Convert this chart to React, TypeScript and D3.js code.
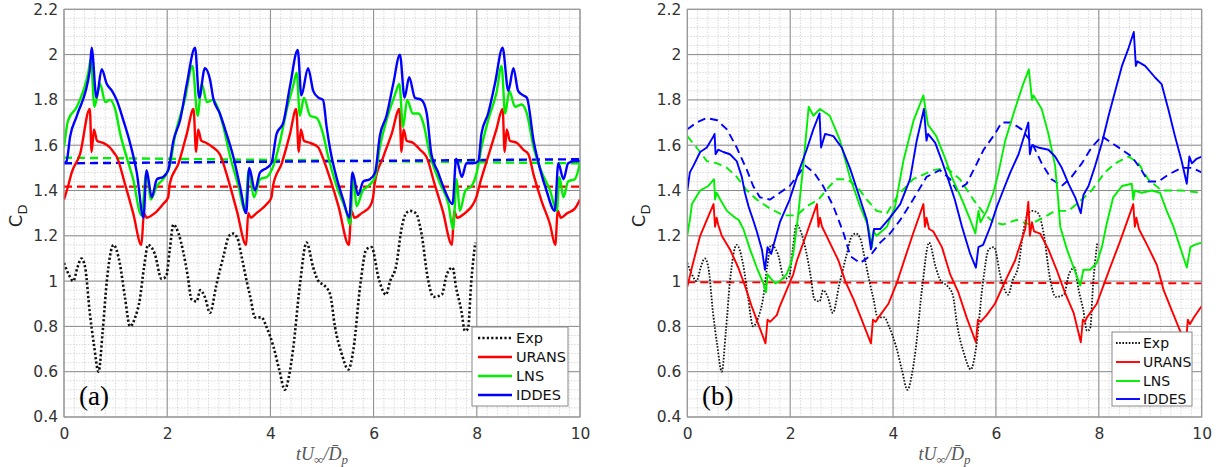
import React, { useEffect, useRef } from 'react';
import * as d3 from 'd3';

type Pt = [number, number];

// experiment (same in both panels)
const expData: Pt[] = [
  [0, 1.08], [0.09, 1.03], [0.18, 1.0], [0.26, 1.06], [0.34, 1.10], [0.41, 1.06], [0.5, 0.86], [0.58, 0.72],
  [0.67, 0.6], [0.75, 0.78], [0.83, 1.0], [0.96, 1.16], [1.08, 1.08], [1.18, 0.93], [1.28, 0.8], [1.38, 0.84],
  [1.47, 0.92], [1.55, 1.06], [1.63, 1.16], [1.76, 1.12], [1.89, 1.01], [1.98, 1.02], [2.05, 1.14], [2.12, 1.25],
  [2.22, 1.21], [2.31, 1.13], [2.4, 1.02], [2.47, 0.92], [2.57, 0.91], [2.64, 0.96], [2.73, 0.93], [2.83, 0.86],
  [2.95, 0.98], [3.09, 1.11], [3.2, 1.2], [3.28, 1.21], [3.36, 1.19], [3.45, 1.1], [3.54, 1.0], [3.62, 0.92],
  [3.7, 0.84], [3.83, 0.84], [3.92, 0.8], [4.06, 0.71], [4.17, 0.61], [4.28, 0.52], [4.36, 0.58], [4.44, 0.7],
  [4.57, 0.98], [4.7, 1.17], [4.83, 1.06], [4.93, 1.0], [5.05, 0.98], [5.16, 0.94], [5.25, 0.8], [5.38, 0.68],
  [5.51, 0.61], [5.61, 0.7], [5.74, 0.98], [5.86, 1.14], [5.96, 1.15], [6.1, 1.01], [6.24, 0.94], [6.32, 1.0],
  [6.44, 1.07], [6.54, 1.23], [6.63, 1.3], [6.71, 1.31], [6.82, 1.3], [6.92, 1.22], [7.06, 1.0], [7.16, 0.93],
  [7.32, 0.94], [7.42, 1.03], [7.53, 1.06], [7.6, 0.97], [7.7, 0.87], [7.77, 0.78], [7.83, 0.79], [7.89, 0.99],
  [7.97, 1.17],
];

// panel (a)
const uransA: Pt[] = [
  [0, 1.36], [0.08, 1.42], [0.15, 1.48], [0.31, 1.56], [0.5, 1.76], [0.535, 1.57], [0.58, 1.67], [0.64, 1.62],
  [0.76, 1.61], [0.89, 1.59], [0.99, 1.56], [1.02, 1.55], [1.18, 1.43], [1.34, 1.3], [1.5, 1.16], [1.55, 1.3],
  [1.6, 1.28], [1.76, 1.3], [1.92, 1.34], [2.02, 1.37], [2.05, 1.43], [2.22, 1.52], [2.38, 1.65], [2.51, 1.76],
  [2.56, 1.57], [2.6, 1.67], [2.66, 1.62], [2.76, 1.61], [2.89, 1.59], [3.02, 1.56], [3.18, 1.45], [3.35, 1.31],
  [3.53, 1.16], [3.57, 1.3], [3.62, 1.28], [3.73, 1.3], [3.93, 1.34], [4.02, 1.37], [4.05, 1.42], [4.22, 1.52],
  [4.38, 1.65], [4.5, 1.76], [4.55, 1.57], [4.59, 1.67], [4.65, 1.62], [4.77, 1.61], [4.93, 1.59], [4.99, 1.56],
  [5.16, 1.45], [5.32, 1.33], [5.52, 1.16], [5.57, 1.31], [5.63, 1.28], [5.77, 1.3], [5.93, 1.33], [5.99, 1.37],
  [6.02, 1.43], [6.19, 1.55], [6.35, 1.65], [6.5, 1.76], [6.54, 1.57], [6.58, 1.67], [6.64, 1.62], [6.77, 1.61],
  [6.9, 1.58], [6.99, 1.56], [7.02, 1.55], [7.18, 1.43], [7.34, 1.31], [7.52, 1.16], [7.56, 1.31], [7.62, 1.28],
  [7.77, 1.3], [7.93, 1.34], [7.99, 1.37], [8.06, 1.43], [8.22, 1.55], [8.38, 1.67], [8.5, 1.76], [8.54, 1.57],
  [8.58, 1.67], [8.64, 1.62], [8.78, 1.61], [8.9, 1.58], [9.0, 1.56], [9.1, 1.47], [9.26, 1.35], [9.42, 1.25],
  [9.52, 1.16], [9.57, 1.31], [9.63, 1.28], [9.75, 1.3], [9.9, 1.32], [10, 1.36],
];
const lnsA: Pt[] = [
  [0, 1.59], [0.08, 1.71], [0.25, 1.77], [0.47, 1.92], [0.52, 1.98], [0.59, 1.77], [0.7, 1.87], [0.8, 1.79],
  [0.89, 1.8], [0.99, 1.76], [1.09, 1.65], [1.21, 1.55], [1.34, 1.45], [1.5, 1.29], [1.6, 1.48], [1.68, 1.36],
  [1.8, 1.42], [1.92, 1.45], [2.05, 1.51], [2.15, 1.64], [2.34, 1.8], [2.49, 1.95], [2.59, 1.73], [2.67, 1.87],
  [2.77, 1.79], [2.89, 1.8], [2.99, 1.76], [3.09, 1.68], [3.22, 1.55], [3.38, 1.42], [3.51, 1.31], [3.58, 1.49],
  [3.68, 1.37], [3.8, 1.45], [3.93, 1.46], [4.06, 1.51], [4.19, 1.62], [4.32, 1.76], [4.44, 1.86], [4.51, 1.92],
  [4.57, 1.73], [4.65, 1.81], [4.77, 1.73], [4.9, 1.72], [5.02, 1.65], [5.12, 1.55], [5.28, 1.42], [5.48, 1.3],
  [5.54, 1.25], [5.61, 1.46], [5.67, 1.33], [5.79, 1.4], [5.9, 1.42], [6.03, 1.46], [6.12, 1.59], [6.25, 1.71],
  [6.41, 1.82], [6.5, 1.87], [6.57, 1.68], [6.65, 1.8], [6.76, 1.74], [6.87, 1.74], [6.96, 1.7], [7.09, 1.56],
  [7.29, 1.43], [7.45, 1.34], [7.54, 1.23], [7.61, 1.45], [7.67, 1.31], [7.78, 1.4], [7.9, 1.42], [8.0, 1.48],
  [8.09, 1.59], [8.22, 1.71], [8.38, 1.83], [8.48, 1.95], [8.55, 1.74], [8.63, 1.84], [8.74, 1.77], [8.87, 1.78],
  [8.97, 1.74], [9.1, 1.59], [9.26, 1.48], [9.42, 1.4], [9.55, 1.31], [9.6, 1.46], [9.68, 1.37], [9.77, 1.44],
  [9.9, 1.45], [10, 1.52],
];
const iddesA: Pt[] = [
  [0, 1.52], [0.05, 1.53], [0.12, 1.64], [0.25, 1.73], [0.5, 1.93], [0.535, 2.03], [0.63, 1.81], [0.73, 1.935],
  [0.83, 1.87], [0.93, 1.84], [1.02, 1.8], [1.15, 1.71], [1.28, 1.61], [1.41, 1.48], [1.54, 1.28], [1.6, 1.49],
  [1.7, 1.37], [1.8, 1.45], [1.92, 1.46], [2.02, 1.49], [2.12, 1.62], [2.25, 1.71], [2.38, 1.87], [2.54, 2.03],
  [2.62, 1.81], [2.73, 1.94], [2.83, 1.89], [2.89, 1.81], [3.02, 1.74], [3.15, 1.65], [3.28, 1.55], [3.41, 1.42],
  [3.53, 1.3], [3.59, 1.5], [3.7, 1.4], [3.8, 1.48], [3.93, 1.5], [4.02, 1.52], [4.12, 1.65], [4.25, 1.7],
  [4.38, 1.86], [4.53, 2.02], [4.6, 1.82], [4.73, 1.94], [4.83, 1.84], [4.93, 1.81], [5.02, 1.8], [5.09, 1.68],
  [5.16, 1.58], [5.29, 1.45], [5.41, 1.36], [5.53, 1.28], [5.59, 1.48], [5.7, 1.38], [5.8, 1.44], [5.93, 1.45],
  [6.03, 1.48], [6.12, 1.64], [6.25, 1.73], [6.38, 1.87], [6.51, 2.0], [6.6, 1.81], [6.69, 1.9], [6.8, 1.81],
  [6.93, 1.8], [7.03, 1.74], [7.12, 1.56], [7.25, 1.48], [7.38, 1.4], [7.53, 1.34], [7.6, 1.54], [7.71, 1.46],
  [7.8, 1.52], [7.93, 1.52], [8.03, 1.53], [8.09, 1.65], [8.22, 1.74], [8.35, 1.87], [8.5, 2.03], [8.61, 1.84],
  [8.71, 1.94], [8.8, 1.84], [8.9, 1.82], [8.97, 1.81], [9.1, 1.62], [9.22, 1.5], [9.35, 1.4], [9.51, 1.31],
  [9.58, 1.52], [9.68, 1.45], [9.77, 1.52], [9.9, 1.53], [10, 1.53],
];
const uransMeanA: Pt[] = [[0, 1.417], [10, 1.417]];
const lnsMeanA: Pt[] = [[0, 1.545], [10, 1.52]];
const iddesMeanA: Pt[] = [[0, 1.52], [10, 1.538]];

// panel (b)
const uransB: Pt[] = [
  [0, 0.975], [0.09, 1.06], [0.18, 1.14], [0.25, 1.2], [0.38, 1.27], [0.51, 1.34], [0.54, 1.24], [0.57, 1.28],
  [0.6, 1.25], [0.67, 1.2], [0.83, 1.14], [0.99, 1.06], [1.12, 0.98], [1.25, 0.89], [1.38, 0.81], [1.52, 0.725],
  [1.56, 0.83], [1.61, 0.82], [1.74, 0.85], [1.8, 0.89], [1.93, 0.96], [2.06, 1.03], [2.13, 1.09], [2.32, 1.21],
  [2.52, 1.34], [2.55, 1.24], [2.58, 1.28], [2.62, 1.24], [2.77, 1.17], [2.94, 1.09], [3.07, 1.0], [3.23, 0.92],
  [3.39, 0.83], [3.57, 0.725], [3.61, 0.83], [3.66, 0.82], [3.75, 0.85], [3.91, 0.9], [4.07, 0.99], [4.2, 1.08],
  [4.39, 1.21], [4.59, 1.34], [4.62, 1.24], [4.65, 1.28], [4.7, 1.23], [4.78, 1.22], [4.95, 1.15], [5.11, 1.03],
  [5.27, 0.95], [5.43, 0.84], [5.61, 0.73], [5.65, 0.83], [5.7, 0.82], [5.82, 0.85], [5.98, 0.9], [6.18, 1.0],
  [6.37, 1.09], [6.57, 1.23], [6.63, 1.35], [6.66, 1.2], [6.7, 1.26], [6.74, 1.22], [6.86, 1.21], [7.02, 1.14],
  [7.18, 1.05], [7.34, 0.95], [7.51, 0.86], [7.65, 0.73], [7.69, 0.83], [7.73, 0.82], [7.77, 0.84], [7.96, 0.9],
  [8.09, 0.98], [8.22, 1.06], [8.42, 1.18], [8.67, 1.34], [8.7, 1.24], [8.73, 1.28], [8.78, 1.23], [8.96, 1.15],
  [9.13, 1.07], [9.26, 0.96], [9.42, 0.87], [9.58, 0.78], [9.7, 0.74], [9.73, 0.83], [9.77, 0.81], [9.85, 0.84],
  [10, 0.89],
];
const lnsB: Pt[] = [
  [0, 1.2], [0.02, 1.23], [0.05, 1.27], [0.09, 1.34], [0.25, 1.4], [0.41, 1.42], [0.52, 1.45], [0.54, 1.36],
  [0.57, 1.39], [0.64, 1.36], [0.77, 1.31], [0.93, 1.28], [1.0, 1.27], [1.09, 1.23], [1.22, 1.14], [1.35, 1.06],
  [1.48, 0.99], [1.53, 0.95], [1.56, 1.03], [1.63, 1.01], [1.71, 0.99], [1.8, 1.0], [1.93, 1.03], [2.0, 1.07],
  [2.06, 1.12], [2.15, 1.28], [2.25, 1.5], [2.36, 1.77], [2.45, 1.73], [2.58, 1.76], [2.77, 1.73], [2.97, 1.62],
  [3.16, 1.46], [3.36, 1.33], [3.52, 1.24], [3.59, 1.15], [3.62, 1.22], [3.68, 1.2], [3.88, 1.24], [4.04, 1.33],
  [4.2, 1.53], [4.4, 1.71], [4.59, 1.82], [4.65, 1.73], [4.68, 1.69], [4.84, 1.64], [5.0, 1.55], [5.14, 1.46],
  [5.34, 1.36], [5.5, 1.27], [5.6, 1.21], [5.66, 1.31], [5.7, 1.26], [5.82, 1.31], [5.95, 1.39], [6.05, 1.48],
  [6.18, 1.62], [6.37, 1.76], [6.53, 1.87], [6.64, 1.935], [6.7, 1.8], [6.73, 1.82], [6.89, 1.76], [7.02, 1.65],
  [7.15, 1.51], [7.21, 1.36], [7.25, 1.24], [7.38, 1.14], [7.51, 1.06], [7.64, 0.98], [7.7, 1.05], [7.83, 1.05],
  [7.96, 1.08], [8.06, 1.15], [8.15, 1.25], [8.28, 1.37], [8.45, 1.42], [8.64, 1.43], [8.67, 1.36], [8.7, 1.4],
  [8.83, 1.39], [9.03, 1.4], [9.19, 1.39], [9.32, 1.31], [9.45, 1.24], [9.58, 1.15], [9.71, 1.06], [9.78, 1.15],
  [9.86, 1.16], [10, 1.17],
];
const iddesB: Pt[] = [
  [0, 1.4], [0.05, 1.48], [0.12, 1.51], [0.25, 1.57], [0.38, 1.59], [0.51, 1.64], [0.53, 1.65], [0.55, 1.56],
  [0.6, 1.58], [0.7, 1.57], [0.83, 1.56], [0.96, 1.53], [1.06, 1.46], [1.12, 1.39], [1.19, 1.33], [1.28, 1.27],
  [1.35, 1.22], [1.45, 1.14], [1.51, 1.05], [1.56, 1.15], [1.63, 1.12], [1.8, 1.26], [1.99, 1.36], [2.16, 1.48],
  [2.32, 1.58], [2.45, 1.67], [2.57, 1.74], [2.6, 1.59], [2.68, 1.65], [2.84, 1.64], [3.0, 1.59], [3.16, 1.5],
  [3.32, 1.39], [3.49, 1.27], [3.57, 1.14], [3.63, 1.23], [3.75, 1.23], [3.94, 1.28], [4.14, 1.34], [4.33, 1.45],
  [4.46, 1.62], [4.6, 1.76], [4.65, 1.62], [4.68, 1.65], [4.82, 1.61], [4.95, 1.53], [5.07, 1.45], [5.2, 1.36],
  [5.34, 1.24], [5.5, 1.12], [5.61, 1.06], [5.66, 1.15], [5.75, 1.16], [5.89, 1.24], [6.02, 1.33], [6.14, 1.4],
  [6.28, 1.48], [6.44, 1.56], [6.63, 1.7], [6.66, 1.56], [6.7, 1.6], [6.82, 1.59], [7.02, 1.58], [7.15, 1.55],
  [7.28, 1.5], [7.41, 1.43], [7.54, 1.37], [7.65, 1.3], [7.7, 1.38], [7.8, 1.42], [7.93, 1.51], [8.06, 1.61],
  [8.19, 1.73], [8.32, 1.84], [8.45, 1.95], [8.58, 2.03], [8.68, 2.1], [8.72, 1.95], [8.75, 1.97], [8.9, 1.95],
  [9.09, 1.9], [9.22, 1.87], [9.35, 1.76], [9.48, 1.64], [9.61, 1.53], [9.71, 1.43], [9.76, 1.55], [9.81, 1.52],
  [9.9, 1.54], [10, 1.55],
];
const uransMeanB: Pt[] = [[0, 0.995], [10, 0.99]];
const lnsMeanB: Pt[] = [
  [0, 1.64], [0.18, 1.59], [0.38, 1.53], [0.58, 1.52], [0.77, 1.5], [0.96, 1.46], [1.16, 1.4], [1.35, 1.36],
  [1.61, 1.32], [1.87, 1.29], [2.13, 1.29], [2.32, 1.33], [2.55, 1.36], [2.77, 1.42], [2.9, 1.45], [3.1, 1.45],
  [3.29, 1.42], [3.49, 1.36], [3.68, 1.31], [3.88, 1.3], [4.1, 1.38], [4.39, 1.45], [4.78, 1.49], [5.04, 1.5],
  [5.3, 1.45], [5.56, 1.36], [5.76, 1.3], [5.95, 1.26], [6.14, 1.25], [6.4, 1.27], [6.66, 1.25], [6.92, 1.28],
  [7.15, 1.31], [7.41, 1.31], [7.67, 1.36], [7.86, 1.4], [8.12, 1.48], [8.32, 1.52], [8.58, 1.55], [8.77, 1.52],
  [8.96, 1.45], [9.22, 1.4], [9.61, 1.4], [10, 1.39],
];
const iddesMeanB: Pt[] = [
  [0, 1.67], [0.18, 1.7], [0.38, 1.72], [0.58, 1.71], [0.77, 1.67], [0.96, 1.59], [1.16, 1.49], [1.28, 1.42],
  [1.41, 1.37], [1.61, 1.36], [1.8, 1.39], [1.99, 1.42], [2.19, 1.48], [2.29, 1.51], [2.46, 1.48], [2.64, 1.42],
  [2.84, 1.33], [3.04, 1.21], [3.17, 1.11], [3.36, 1.08], [3.55, 1.11], [3.75, 1.17], [3.94, 1.21], [4.14, 1.27],
  [4.39, 1.36], [4.65, 1.46], [4.91, 1.49], [5.11, 1.45], [5.24, 1.4], [5.43, 1.43], [5.63, 1.52], [5.76, 1.58],
  [5.98, 1.65], [6.11, 1.7], [6.3, 1.7], [6.5, 1.67], [6.7, 1.61], [6.89, 1.52], [7.08, 1.45], [7.28, 1.42],
  [7.47, 1.46], [7.67, 1.52], [7.86, 1.59], [8.06, 1.64], [8.25, 1.61], [8.45, 1.58], [8.64, 1.55], [8.83, 1.49],
  [8.96, 1.44], [9.16, 1.44], [9.35, 1.47], [9.61, 1.5], [9.81, 1.5], [10, 1.48],
];

const xTicks = [0, 2, 4, 6, 8, 10];
const yTicks = [0.4, 0.6, 0.8, 1, 1.2, 1.4, 1.6, 1.8, 2, 2.2];
const legendNames = ['Exp', 'URANS', 'LNS', 'IDDES'];

const RED = '#ff0000', GREEN = '#00ee00', BLUE = '#0000ff';
const SANS = '"DejaVu Sans", Verdana, sans-serif';

export default function App() {
  const ref = useRef<SVGSVGElement>(null);

  useEffect(() => {
    const svg = d3.select(ref.current);
    svg.selectAll('*').remove();

    const panels = [
      {
        id: 'a', left: 64, right: 580, tag: '(a)', tagX: 79, ylabX: 22, lw: 2.4, ew: 2.6, dash: '2.2,2.2', smooth: true,
        series: [
          { d: uransMeanA, c: RED, dashed: true }, { d: lnsMeanA, c: GREEN, dashed: true }, { d: iddesMeanA, c: BLUE, dashed: true },
          { d: expData, c: '#111', exp: true },
          { d: uransA, c: RED }, { d: lnsA, c: GREEN }, { d: iddesA, c: BLUE },
        ],
        leg: { x: 472, y: 327, w: 96, h: 79, l0: 478, l1: 512, tx: 516, rows: [338, 357, 376, 395], fs: 14.5 },
      },
      {
        id: 'b', left: 687.3, right: 1201.7, tag: '(b)', tagX: 702, ylabX: 645, lw: 1.9, ew: 1.8, dash: '1.6,1.6', smooth: false,
        series: [
          { d: uransMeanB, c: RED, dashed: true },
          { d: expData, c: '#111', exp: true },
          { d: lnsMeanB, c: GREEN, dashed: true }, { d: iddesMeanB, c: BLUE, dashed: true },
          { d: uransB, c: RED }, { d: lnsB, c: GREEN }, { d: iddesB, c: BLUE },
        ],
        leg: { x: 1112, y: 332, w: 80, h: 74, l0: 1116, l1: 1140, tx: 1143, rows: [343, 362, 381, 399], fs: 14 },
      },
    ];

    const y = d3.scaleLinear().domain([0.4, 2.2]).range([417, 9.3]);

    panels.forEach(p => {
      const x = d3.scaleLinear().domain([0, 10]).range([p.left, p.right]);
      const g = svg.append('g');

      g.append('clipPath').attr('id', 'clip-' + p.id)
        .append('rect').attr('x', p.left).attr('y', y(2.2)).attr('width', p.right - p.left).attr('height', y(0.4) - y(2.2));

      g.append('rect').attr('x', p.left).attr('y', y(2.2)).attr('width', p.right - p.left)
        .attr('height', y(0.4) - y(2.2)).attr('fill', '#fff');

      // minor grid
      const minorX = d3.range(0, 51).map(i => i * 0.2);
      const minorY = d3.range(0, 46).map(i => 0.4 + i * 0.04);
      g.append('g').selectAll('line').data(minorX).enter().append('line')
        .attr('x1', d => x(d)).attr('x2', d => x(d)).attr('y1', y(0.4)).attr('y2', y(2.2))
        .attr('stroke', '#cfcfcf').attr('stroke-width', 0.8).attr('stroke-dasharray', '1.5,1.5');
      g.append('g').selectAll('line').data(minorY).enter().append('line')
        .attr('x1', p.left).attr('x2', p.right).attr('y1', d => y(d)).attr('y2', d => y(d))
        .attr('stroke', '#cfcfcf').attr('stroke-width', 0.8).attr('stroke-dasharray', '1.5,1.5');

      // major grid
      g.append('g').selectAll('line').data(xTicks).enter().append('line')
        .attr('x1', d => x(d)).attr('x2', d => x(d)).attr('y1', y(0.4)).attr('y2', y(2.2))
        .attr('stroke', '#8a8a8a').attr('stroke-width', 1);
      g.append('g').selectAll('line').data(yTicks).enter().append('line')
        .attr('x1', p.left).attr('x2', p.right).attr('y1', d => y(d)).attr('y2', d => y(d))
        .attr('stroke', '#8a8a8a').attr('stroke-width', 1);

      // curves
      const line = d3.line<Pt>().x(d => x(d[0])).y(d => y(d[1]));
      const smoothLine = d3.line<Pt>().x(d => x(d[0])).y(d => y(d[1])).curve(d3.curveMonotoneX);
      const cg = g.append('g').attr('clip-path', `url(#clip-${p.id})`);
      p.series.forEach((s: any) => {
        const gen = s.exp || p.smooth ? smoothLine : line;
        cg.append('path').attr('d', gen(s.d) as string).attr('fill', 'none')
          .attr('stroke', s.c)
          .attr('stroke-width', s.exp ? p.ew : p.lw)
          .attr('stroke-dasharray', s.exp ? p.dash : s.dashed ? '8,5' : null)
          .attr('stroke-linejoin', 'round');
      });

      // frame
      g.append('rect').attr('x', p.left).attr('y', y(2.2)).attr('width', p.right - p.left)
        .attr('height', y(0.4) - y(2.2)).attr('fill', 'none').attr('stroke', '#999').attr('stroke-width', 1);

      // axes labels
      const yAxis = d3.axisLeft(y).tickValues(yTicks).tickSize(0).tickPadding(6)
        .tickFormat(d => String(+(+d).toFixed(1)));
      const ya = g.append('g').attr('transform', `translate(${p.left},0)`).call(yAxis);
      ya.select('.domain').remove();
      ya.selectAll('text').attr('font-family', SANS).attr('font-size', 15.5).attr('fill', '#333');

      const xAxis = d3.axisBottom(x).tickValues(xTicks).tickSize(0).tickPadding(11).tickFormat(d => String(d));
      const xa = g.append('g').attr('transform', `translate(0,${y(0.4)})`).call(xAxis);
      xa.select('.domain').remove();
      xa.selectAll('text').attr('font-family', SANS).attr('font-size', 15.5).attr('fill', '#333');

      // x label
      const xl = g.append('text').attr('x', (p.left + p.right) / 2).attr('y', 460).attr('text-anchor', 'middle')
        .attr('font-family', '"Liberation Serif", "DejaVu Serif", serif').attr('font-style', 'italic')
        .attr('font-size', 18).attr('fill', '#555');
      xl.append('tspan').text('tU');
      xl.append('tspan').attr('dy', 4).attr('font-size', 13).text('∞');
      xl.append('tspan').attr('dy', -4).text('/D\u0304');
      xl.append('tspan').attr('dy', 4).attr('font-size', 13).text('p');

      // y label
      const yl = g.append('text').attr('transform', `translate(${p.ylabX},${(y(0.4) + y(2.2)) / 2 + 14}) rotate(-90)`)
        .attr('font-family', SANS).attr('font-size', 18).attr('fill', '#222');
      yl.append('tspan').text('C');
      yl.append('tspan').attr('dy', 5).attr('font-size', 13).text('D');

      // panel tag
      g.append('text').attr('x', p.tagX).attr('y', 405).attr('font-family', '"Liberation Serif", serif')
        .attr('font-size', 27).attr('fill', '#000').text(p.tag);

      // legend
      const L = p.leg;
      const lg = g.append('g');
      lg.append('rect').attr('x', L.x).attr('y', L.y).attr('width', L.w).attr('height', L.h)
        .attr('fill', '#fff').attr('stroke', '#888').attr('stroke-width', 1);
      const legColors = ['#111', RED, GREEN, BLUE];
      legendNames.forEach((name, i) => {
        lg.append('line').attr('x1', L.l0).attr('x2', L.l1).attr('y1', L.rows[i]).attr('y2', L.rows[i])
          .attr('stroke', legColors[i]).attr('stroke-width', i === 0 ? p.ew : p.lw)
          .attr('stroke-dasharray', i === 0 ? p.dash : null);
        lg.append('text').attr('x', L.tx).attr('y', L.rows[i]).attr('dy', '0.35em')
          .attr('font-family', SANS).attr('font-size', L.fs).attr('fill', '#111').text(name);
      });
    });
  }, []);

  return (
    <svg ref={ref} width={1225} height={467} style={{ position: 'absolute', left: 0, top: 0, background: '#fff' }} />
  );
}
